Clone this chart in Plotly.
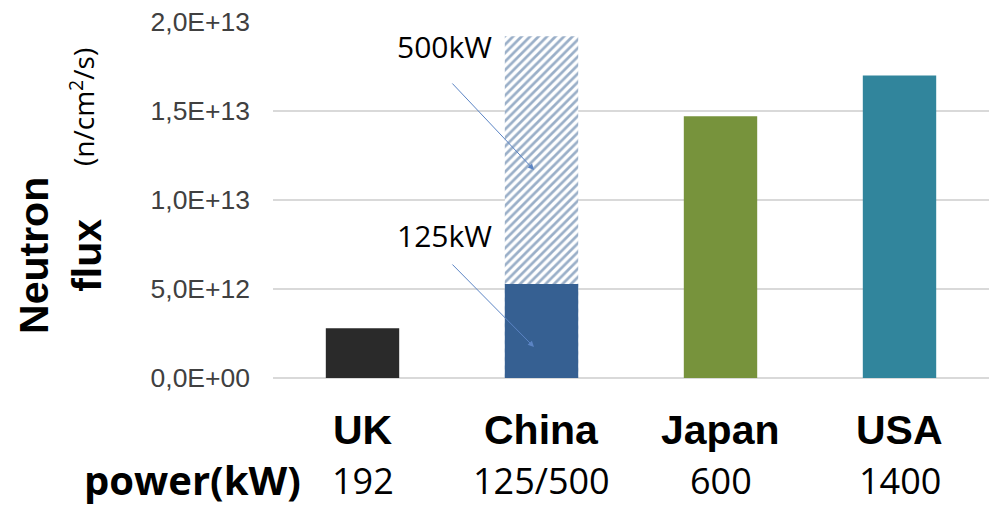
import plotly.graph_objects as go

countries = ["UK", "China", "Japan", "USA"]
flux = [2.8e12, 5.28e12, 1.47e13, 1.70e13]          # n/cm2/s (China at 125 kW)
china_500kw = 1.92e13                                 # China at 500 kW
powers = ["192", "125/500", "600", "1400"]
colors = ["#2a2a2a", "#366092", "#77933C", "#31859C"]
ytick_vals = [0, 5e12, 1e13, 1.5e13, 2e13]
ytick_text = ["0,0E+00", "5,0E+12", "1,0E+13", "1,5E+13", "2,0E+13"]

fig = go.Figure()
# 500 kW hatched bar (behind)
fig.add_trace(go.Bar(
    x=["China"], y=[china_500kw], width=0.41,
    marker=dict(color="white", line=dict(width=0),
                pattern=dict(shape="/", fgcolor="#366092", bgcolor="white",
                             size=6, solidity=0.45, fillmode="overlay")),
    showlegend=False, hoverinfo="skip"))
# main bars
fig.add_trace(go.Bar(
    x=countries, y=flux, width=0.41,
    marker=dict(color=colors, line=dict(width=0)),
    showlegend=False))

fig.update_layout(
    width=989, height=508, barmode="overlay",
    margin=dict(l=273, r=0, t=22, b=130),
    plot_bgcolor="white", paper_bgcolor="white",
    font=dict(family="Liberation Sans, Arial, sans-serif", color="#404040"),
    xaxis=dict(type="category", categoryorder="array", categoryarray=countries,
               range=[-0.5, 3.5], showticklabels=False, showgrid=False,
               zeroline=False, showline=False, ticks=""),
    yaxis=dict(range=[0, 2e13], tickvals=ytick_vals, ticktext=ytick_text,
               tickfont=dict(size=26.5, color="#404040", family="Liberation Sans, Arial, sans-serif"),
               showgrid=True, gridcolor="#d9d9d9", gridwidth=1.5,
               zeroline=True, zerolinecolor="#d9d9d9", zerolinewidth=1.5,
               showline=False, ticks="", ticklabelstandoff=22),
)

ann = []
# category labels and power row
for i, (c, p) in enumerate(zip(countries, powers)):
    ann.append(dict(x=i, y=-0.146, xref="x", yref="paper", text=f"<b>{c}</b>",
                    xanchor="center", yanchor="middle",
                    showarrow=False, font=dict(size=41, color="black",
                    family="Liberation Sans, Arial, sans-serif")))
    ann.append(dict(x=i, y=-0.288, xref="x", yref="paper", text=p,
                    xanchor="center", yanchor="middle",
                    showarrow=False, font=dict(size=36, color="black",
                    family="Open Sans, sans-serif")))
ann.append(dict(x=-0.113, y=-0.286, xref="paper", yref="paper", text="<b>power(kW)</b>",
                xanchor="center", yanchor="middle",
                showarrow=False, font=dict(size=40, color="black", family="Open Sans, sans-serif")))
# y-axis title
ann.append(dict(x=-0.296, y=0.343, xref="paper", yref="paper", text="<b>Neutron<br>flux</b>",
                xanchor="center", yanchor="middle",
                textangle=-90, showarrow=False,
                font=dict(size=41, color="black", family="Liberation Sans, Arial, sans-serif")))
ann.append(dict(x=-0.267, y=0.761, xref="paper", yref="paper", text="(n/cm<sup>2</sup>/s)",
                xanchor="center", yanchor="middle",
                textangle=-90, showarrow=False,
                font=dict(size=28, color="black", family="Open Sans, sans-serif")))
# power labels with arrows
ann.append(dict(x=0.46, y=1.86e13, xref="x", yref="y", text="500kW", showarrow=False,
                xanchor="center", yanchor="middle",
                font=dict(size=30, color="black", family="Open Sans, sans-serif")))
ann.append(dict(x=0.46, y=0.803e13, xref="x", yref="y", text="125kW", showarrow=False,
                xanchor="center", yanchor="middle",
                font=dict(size=30, color="black", family="Open Sans, sans-serif")))
ann.append(dict(x=0.958, y=1.169e13, ax=0.494, ay=1.663e13, xref="x", yref="y",
                axref="x", ayref="y", text="", showarrow=True, arrowhead=2,
                arrowsize=1.2, arrowwidth=1, arrowcolor="#5b84c4"))
ann.append(dict(x=0.958, y=0.174e13, ax=0.494, ay=0.646e13, xref="x", yref="y",
                axref="x", ayref="y", text="", showarrow=True, arrowhead=2,
                arrowsize=1.2, arrowwidth=1, arrowcolor="#5b84c4"))
fig.update_layout(annotations=ann)

fig.write_html("out.html")
